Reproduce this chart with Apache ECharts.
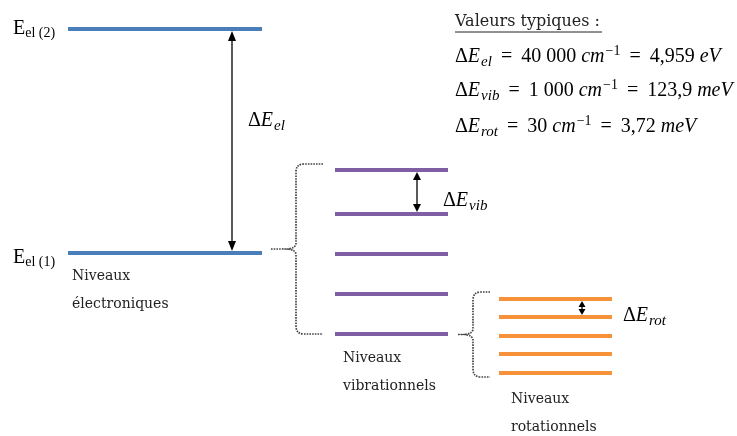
<!DOCTYPE html>
<html><head><meta charset="utf-8">
<script src="https://cdn.jsdelivr.net/npm/echarts@6/dist/echarts.min.js"></script>
<style>html,body{margin:0;padding:0;background:#fff}#c{width:737px;height:436px}</style>
</head><body><div id="c"></div>
<script>
// ---- data (schematic energies, arbitrary units; E_el(1) = 0) ----
const elecLevels = [0, 224];
const vibLevels = [-81, -41, -1, 39, 83];
const rotLevels = [-120, -101, -83, -64, -46];
const elecNames = ['(1)', '(2)'];
const groupTitles = ['Niveaux\nélectroniques', 'Niveaux\nvibrationnels', 'Niveaux\nrotationnels'];
const deltaNames = ['el', 'vib', 'rot'];
const waveNumbers = ['40 000', '1 000', '30'];
const energies = ['4,959', '123,9', '3,72'];
const energyUnits = ['eV', 'meV', 'meV'];
const summaryTitle = 'Valeurs typiques :';

// ---- layout / styles ----
const colX = { elec: [68, 262], vib: [335, 448], rot: [499, 612] };
const colors = { elec: '#4a7ebb', vib: '#7f5fa3', rot: '#f7923a' };
const serif = 'DejaVu Serif';
const mathFont = 'Liberation Serif';

const chart = echarts.init(document.getElementById('c'));

function levelSeries(name, levels, xr, color) {
  return {
    type: 'custom', name,
    data: levels.map(e => [xr[0], xr[1], e]),
    renderItem: (p, api) => {
      const a = api.coord([api.value(0), api.value(2)]);
      const b = api.coord([api.value(1), api.value(2)]);
      return { type: 'line', shape: { x1: a[0], y1: a[1], x2: b[0], y2: b[1] },
        style: { stroke: color, lineWidth: 4 } };
    }
  };
}

function arrowSeries(x, eHigh, eLow, head) {
  return {
    type: 'custom',
    data: [[x, eHigh, eLow]],
    renderItem: (p, api) => {
      const t = api.coord([api.value(0), api.value(1)]);
      const b = api.coord([api.value(0), api.value(2)]);
      const y1 = t[1] + 2, y2 = b[1] - 2, cx = t[0];
      const hw = head[0], hl = head[1];
      return { type: 'group', children: [
        { type: 'line', shape: { x1: cx, y1: y1 + hl - 1, x2: cx, y2: y2 - hl + 1 },
          style: { stroke: '#000', lineWidth: 1.3 } },
        { type: 'polygon', shape: { points: [[cx, y1], [cx - hw, y1 + hl], [cx + hw, y1 + hl]] }, style: { fill: '#000' } },
        { type: 'polygon', shape: { points: [[cx, y2], [cx - hw, y2 - hl], [cx + hw, y2 - hl]] }, style: { fill: '#000' } }
      ] };
    }
  };
}

function braceSeries(levels, spineX, leadX, endX, topPad, botPad) {
  const hi = Math.max(...levels), lo = Math.min(...levels);
  return {
    type: 'custom',
    data: [[spineX, hi, lo, leadX, endX]],
    renderItem: (p, api) => {
      const t = api.coord([api.value(0), api.value(1)]);
      const b = api.coord([api.value(0), api.value(2)]);
      const sx = t[0];
      const top = t[1] - topPad, bot = b[1] + botPad;
      const mid = (top + bot) / 2;
      const lx = api.coord([api.value(3), 0])[0];
      const ex = api.coord([api.value(4), 0])[0];
      const tip = sx - 8;
      const d = `M${ex},${top} L${sx + 8},${top} Q${sx},${top} ${sx},${top + 8} L${sx},${mid - 6} Q${sx},${mid - 1} ${tip},${mid} Q${sx},${mid + 1} ${sx},${mid + 6} L${sx},${bot - 8} Q${sx},${bot} ${sx + 8},${bot} L${ex},${bot} M${lx},${mid} L${tip},${mid}`;
      return { type: 'path', shape: { pathData: d },
        style: { stroke: '#444', lineWidth: 1.7, lineDash: [1.6, 1.1], fill: null } };
    }
  };
}

const rich = {
  r: { fontFamily: mathFont, fontSize: 20, color: '#000' },
  eq: { fontFamily: mathFont, fontSize: 20, color: '#000', padding: [0, 4, 0, 4] },
  i: { fontFamily: mathFont, fontSize: 20, fontStyle: 'italic', color: '#000' },
  sub: { fontFamily: mathFont, fontSize: 15, fontStyle: 'italic', color: '#000', verticalAlign: 'bottom', padding: [10, 0, 0, 1] },
  sup: { fontFamily: mathFont, fontSize: 14, color: '#000', verticalAlign: 'top', padding: [0, 0, 9, 1] }
};
const richE = {
  r: { fontFamily: 'Liberation Serif', fontSize: 20, color: '#000' },
  sub: { fontFamily: 'Liberation Serif', fontSize: 14, color: '#000', verticalAlign: 'bottom', padding: [9, 0, 0, 0] }
};

function deltaText(k) { return `{r|Δ}{i|E}{sub|${deltaNames[k]}}`; }
function eqText(k) {
  return `{r|Δ}{i|E}{sub|${deltaNames[k]}}{eq| = }{r|${waveNumbers[k]} }{i|cm}{sup|−1}{eq| = }{r|${energies[k]} }{i|${energyUnits[k]}}`;
}

const graphics = [];
// electronic level names
const elecLabelY = [258, 29];
elecNames.forEach((n, k) => {
  graphics.push({ type: 'text', x: 13, y: elecLabelY[k],
    style: { text: `{r|E}{sub|el ${n}}`, rich: richE, verticalAlign: 'middle', align: 'left' } });
});
// group titles
const titlePos = [[72, 290], [343, 372], [511, 413]];
groupTitles.forEach((t, k) => {
  graphics.push({ type: 'text', x: titlePos[k][0], y: titlePos[k][1],
    style: { text: t, fontFamily: serif, fontSize: 14, lineHeight: 28, fill: '#222', verticalAlign: 'middle', align: 'left' } });
});
// delta labels
const deltaPos = [[248, 121], [443, 201], [623, 316]];
deltaNames.forEach((n, k) => {
  graphics.push({ type: 'text', x: deltaPos[k][0], y: deltaPos[k][1],
    style: { text: deltaText(k), rich, verticalAlign: 'middle', align: 'left' } });
});
// summary
graphics.push({ type: 'text', x: 455, y: 22,
  style: { text: summaryTitle, fontFamily: serif, fontSize: 16, fill: '#222', verticalAlign: 'middle', align: 'left' } });
graphics.push({ type: 'line', shape: { x1: 455, y1: 32, x2: 602, y2: 32 }, style: { stroke: '#222', lineWidth: 1 } });
const eqY = [57, 91, 127];
deltaNames.forEach((n, k) => {
  graphics.push({ type: 'text', x: 455, y: eqY[k],
    style: { text: eqText(k), rich, verticalAlign: 'middle', align: 'left' } });
});

chart.setOption({
  animation: false,
  grid: { left: 0, right: 0, top: 0, bottom: 0 },
  xAxis: { type: 'value', min: 0, max: 737, show: false },
  yAxis: { type: 'value', min: -183, max: 253, show: false },
  series: [
    levelSeries('elec', elecLevels, colX.elec, colors.elec),
    levelSeries('vib', vibLevels, colX.vib, colors.vib),
    levelSeries('rot', rotLevels, colX.rot, colors.rot),
    arrowSeries(232, elecLevels[1], elecLevels[0], [4, 10]),
    arrowSeries(417, vibLevels[4], vibLevels[3], [4, 8]),
    arrowSeries(582, rotLevels[4], rotLevels[3], [3.5, 6]),
    braceSeries(vibLevels, 296, 271, 323, 6, 0),
    braceSeries(rotLevels, 473, 458, 490, 7, 4)
  ],
  graphic: graphics
});
</script></body></html>
